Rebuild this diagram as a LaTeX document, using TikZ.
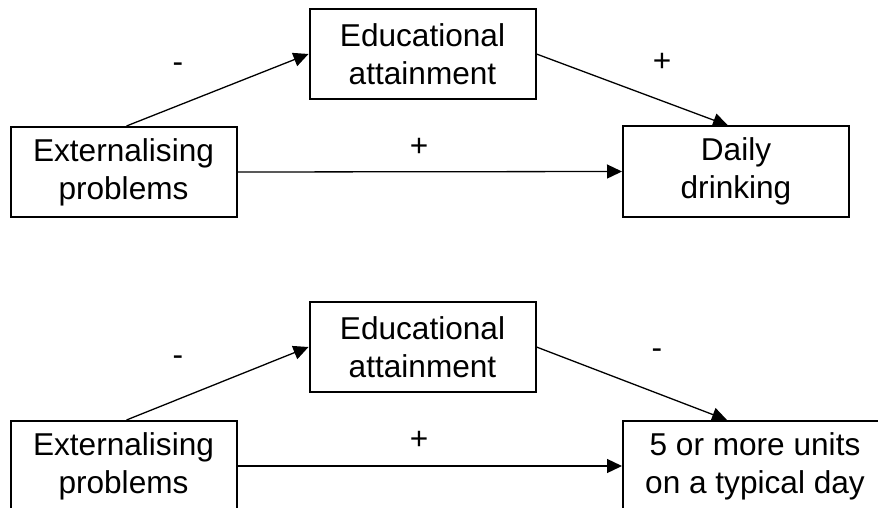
\documentclass[tikz,border=0pt]{standalone}
\usepackage{fontspec}
\setmainfont{Liberation Sans}
\usetikzlibrary{arrows.meta}
\begin{document}
\begin{tikzpicture}[x=1pt,y=-1pt,
  box/.style={draw, line width=2pt, inner sep=0pt, align=center,
    minimum width=226pt, minimum height=90pt,
    font=\fontsize{31.6}{38}\selectfont},
  sign/.style={inner sep=0pt, font=\fontsize{31.6}{38}\selectfont},
  path/.style={line width=1.3pt, -{Triangle[length=15pt,width=14pt]}}]
  \useasboundingbox (0,0) rectangle (878,508);
  \clip (0,0) rectangle (878,508);

  % upper model: daily drinking
  \node[box] (ext1) at (123.5,172) {Externalising\\problems};
  \node[box] (edu1) at (422.5,54) {Educational\\attainment};
  \node[box] (out1) at (736,171.5) {Daily\\drinking};
  \draw[path] ([xshift=3pt]ext1.north) -- (edu1.west);
  \draw[path] (edu1.east) -- ([xshift=-8pt]out1.north);
  \draw[path] (ext1.east) -- (out1.west);
  \node[sign] (s1) at (178,68) {-};
  \node[sign] (s2) at (662,62) {+};
  \node[sign] (s3) at (419,147) {+};

  % lower model: heavy drinking occasions
  \node[box] (ext2) at (123.5,466) {Externalising\\problems};
  \node[box] (edu2) at (422.5,347) {Educational\\attainment};
  \node[box, minimum width=264pt] (out2) at (755,466) {5 or more units\\on a typical day};
  \draw[path] ([xshift=3pt]ext2.north) -- (edu2.west);
  \draw[path] (edu2.east) -- ([xshift=-28pt]out2.north);
  \draw[path] (ext2.east) -- (out2.west);
  \node[sign] (s4) at (178,361) {-};
  \node[sign] (s5) at (657,354) {-};
  \node[sign] (s6) at (419,440) {+};
\end{tikzpicture}
\end{document}
